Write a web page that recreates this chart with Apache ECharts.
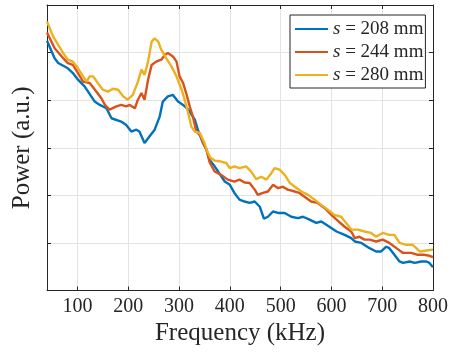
<!DOCTYPE html>
<html><head><meta charset="utf-8">
<script src="https://cdn.jsdelivr.net/npm/echarts@6/dist/echarts.min.js"></script>
<style>html,body{margin:0;padding:0;background:#fff}#c{width:451px;height:352px}</style>
</head><body><div id="c"></div>
<script>
const xTicks = [100,200,300,400,500,600,700,800];
const seriesNames = ['s = 208 mm','s = 244 mm','s = 280 mm'];
const blueF = [40,55,62,81,91,101,114,134,144,157,167,186,196,206,216,222,232,242,252,262,268,278,288,298,308,318,331,337,347,354,360,370,377,390,400,409,419,429,439,449,459,467,475,485,495,508,521,534,544,557,570,580,590,596,610,626,639,646,659,675,688,698,708,714,724,734,741,754,764,777,787,793,800];
const blueP = [5.25,4.88,4.78,4.67,4.57,4.43,4.29,3.97,3.90,3.83,3.62,3.55,3.48,3.34,3.38,3.34,3.10,3.24,3.38,3.66,3.97,4.08,4.11,3.97,3.90,3.80,3.59,3.38,3.10,2.96,2.75,2.61,2.50,2.29,2.22,2.05,1.91,1.87,1.84,1.87,1.76,1.51,1.55,1.66,1.63,1.63,1.55,1.52,1.55,1.49,1.42,1.45,1.38,1.34,1.24,1.17,1.10,1.03,1.00,0.89,0.82,0.82,0.92,0.89,0.75,0.61,0.58,0.61,0.58,0.61,0.61,0.58,0.49];
const redF = [40,55,72,81,91,101,111,124,137,147,154,163,177,186,196,203,213,219,226,232,239,246,255,265,272,278,288,295,301,308,314,321,327,334,341,354,360,370,383,396,409,419,429,439,449,455,465,475,485,495,504,514,528,537,547,560,573,587,600,610,626,639,646,655,665,675,688,701,714,728,741,757,770,783,793,800];
const redP = [5.42,5.09,4.88,4.78,4.74,4.57,4.39,4.36,4.18,4.04,3.90,3.80,3.87,3.90,3.87,3.90,3.83,4.01,4.15,4.01,4.43,4.74,4.81,4.85,4.95,4.99,4.92,4.81,4.50,4.36,4.15,3.87,3.66,3.34,3.27,2.96,2.70,2.50,2.43,2.33,2.29,2.33,2.27,2.26,2.12,2.01,2.05,2.08,2.22,2.15,2.18,2.12,2.08,2.05,1.97,1.87,1.84,1.73,1.59,1.49,1.34,1.24,1.10,1.13,1.07,1.07,1.03,1.07,1.00,0.89,0.79,0.79,0.75,0.75,0.73,0.70];
const yelF = [40,52,62,72,81,91,101,111,118,124,131,140,150,160,170,180,190,199,209,219,226,232,239,246,252,259,265,275,285,295,305,311,318,324,331,341,350,356,362,370,383,393,400,409,419,432,442,452,462,472,482,488,498,508,518,528,541,554,567,580,593,606,619,629,639,652,665,678,688,701,714,724,734,747,760,774,787,800];
const yelP = [5.65,5.34,5.16,4.99,4.85,4.81,4.67,4.50,4.39,4.50,4.50,4.36,4.22,4.18,4.24,4.22,4.08,4.01,4.11,4.39,4.64,4.53,4.81,5.23,5.30,5.23,5.06,4.88,4.71,4.50,4.22,4.01,3.73,3.45,3.34,3.31,3.10,2.91,2.79,2.73,2.71,2.68,2.57,2.61,2.57,2.61,2.50,2.34,2.39,2.33,2.47,2.57,2.54,2.43,2.26,2.18,2.08,2.01,1.91,1.80,1.70,1.59,1.55,1.42,1.28,1.28,1.24,1.21,1.13,1.21,1.17,1.17,1.00,0.96,0.96,0.82,0.84,0.86];

const FONT = '"Liberation Serif","Times New Roman",serif';
const AX = '#262626';
const colors = ['#0072BD','#D95319','#EDB120'];
const pair = (f,p) => f.map((v,i)=>[v,p[i]]);
const dataSets = [pair(blueF,blueP), pair(redF,redP), pair(yelF,yelP)];

const chart = echarts.init(document.getElementById('c'), null, {renderer:'canvas'});
const xBase = {
  type:'value', min:40, max:800,
  axisLine:{show:true, onZero:false, lineStyle:{color:AX, width:1}},
  axisTick:{show:true, inside:true, length:4, customValues:xTicks, lineStyle:{color:AX}},
};
chart.setOption({
  animation:false,
  backgroundColor:'#fff',
  color:colors,
  grid:{left:47, top:5, width:387, height:285.5, containLabel:false},
  xAxis:[
    Object.assign({}, xBase, {
      position:'bottom',
      axisLabel:{show:true, customValues:xTicks, color:AX, fontFamily:FONT, fontSize:20, margin:6},
      splitLine:{show:true, lineStyle:{color:'#e3e3e3', width:1}},
      name:'Frequency (kHz)', nameLocation:'middle', nameGap:18,
      nameTextStyle:{color:AX, fontFamily:FONT, fontSize:25}
    }),
    Object.assign({}, xBase, {
      position:'top',
      axisLabel:{show:false}, splitLine:{show:false}
    })
  ],
  yAxis:[
    {type:'value', min:0, max:6, interval:1, position:'left',
     axisLine:{show:true, onZero:false, lineStyle:{color:AX, width:1}},
     axisTick:{show:true, inside:true, length:4, lineStyle:{color:AX}},
     axisLabel:{show:false},
     splitLine:{show:true, lineStyle:{color:'#e3e3e3', width:1}},
     name:'Power (a.u.)', nameLocation:'middle', nameGap:12, nameRotate:90,
     nameTextStyle:{color:AX, fontFamily:FONT, fontSize:25}},
    {type:'value', min:0, max:6, interval:1, position:'right',
     axisLine:{show:true, onZero:false, lineStyle:{color:AX, width:1}},
     axisTick:{show:true, inside:true, length:4, lineStyle:{color:AX}},
     axisLabel:{show:false}, splitLine:{show:false}}
  ],
  legend:{
    orient:'vertical', left:290, top:15,
    padding:[4,2,3,4], itemGap:3, itemWidth:33, itemHeight:14,
    backgroundColor:'#fff', borderColor:AX, borderWidth:1, borderRadius:0,
    data:seriesNames,
    formatter: n => n.replace(/^s/, '{i|s}'),
    textStyle:{color:AX, fontFamily:FONT, fontSize:19, lineHeight:20,
      rich:{i:{fontStyle:'italic', fontFamily:FONT, fontSize:19, color:AX}}},
    itemStyle:{opacity:0}
  },
  series: dataSets.map((d,i)=>({
    name:seriesNames[i], type:'line', data:d, xAxisIndex:0, yAxisIndex:0,
    symbol:'none', showSymbol:false, smooth:false,
    lineStyle:{width:2.4, color:colors[i]}, itemStyle:{color:colors[i]}
  }))
});
</script></body></html>
